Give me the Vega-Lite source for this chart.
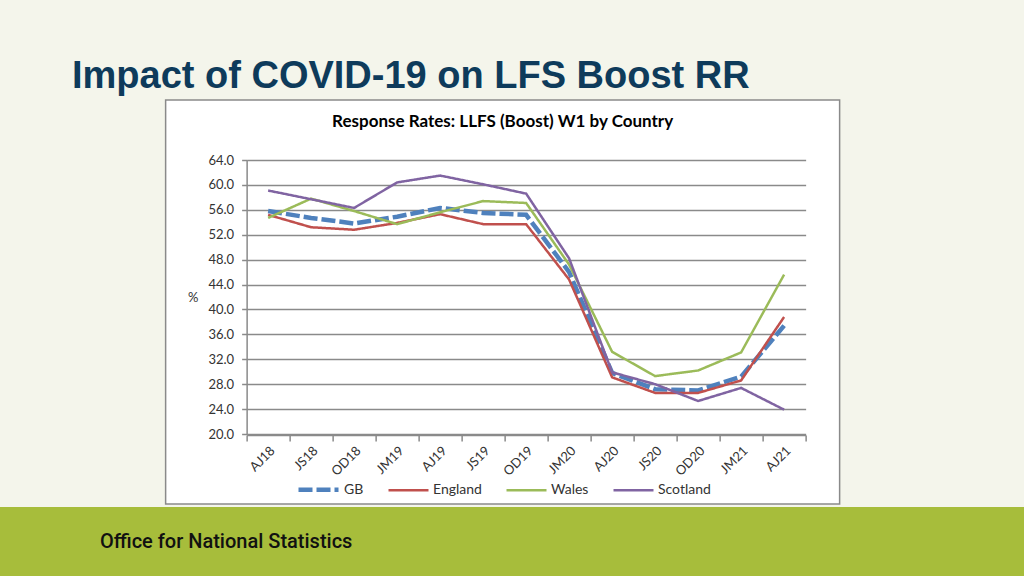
{
  "$schema": "https://vega.github.io/schema/vega-lite/v6.json",
  "background": "#f4f5eb",
  "padding": {"left": 0, "right": 0, "top": 58, "bottom": 0},
  "title": {"text": "Impact of COVID-19 on LFS Boost RR", "anchor": "start", "frame": "group", "dx": 72, "offset": -35, "fontSize": 38, "font": "Liberation Sans", "fontWeight": "bold", "color": "#0e3b5b", "baseline": "bottom"},
  "center": true,
  "spacing": 2,
  "config": {
    "legend": {"symbolType": "stroke", "symbolSize": 1600, "labelFont": "Lato", "labelFontSize": 14, "labelColor": "#333333", "labelOffset": 3, "columnPadding": 19, "padding": 0}
  },
  "vconcat": [
    {
      "width": 674,
      "height": 404,
      "view": {"fill": "white", "stroke": "#8a8a8a", "strokeWidth": 1.5},
      "title": {"text": "Response Rates: LLFS (Boost) W1 by Country", "anchor": "middle", "frame": "group", "offset": -48, "fontSize": 17, "font": "Lato", "fontWeight": "bold", "color": "#000000", "baseline": "bottom"},
      "data": {"values": [
        {"period": "AJ18", "series": "GB", "rate": 55.8},
        {"period": "JS18", "series": "GB", "rate": 54.7},
        {"period": "OD18", "series": "GB", "rate": 53.8},
        {"period": "JM19", "series": "GB", "rate": 54.9},
        {"period": "AJ19", "series": "GB", "rate": 56.3},
        {"period": "JS19", "series": "GB", "rate": 55.5},
        {"period": "OD19", "series": "GB", "rate": 55.2},
        {"period": "JM20", "series": "GB", "rate": 46.0},
        {"period": "AJ20", "series": "GB", "rate": 29.8},
        {"period": "JS20", "series": "GB", "rate": 27.2},
        {"period": "OD20", "series": "GB", "rate": 27.0},
        {"period": "JM21", "series": "GB", "rate": 29.2},
        {"period": "AJ21", "series": "GB", "rate": 37.4},
        {"period": "AJ18", "series": "England", "rate": 55.2},
        {"period": "JS18", "series": "England", "rate": 53.2},
        {"period": "OD18", "series": "England", "rate": 52.8},
        {"period": "JM19", "series": "England", "rate": 53.9},
        {"period": "AJ19", "series": "England", "rate": 55.3},
        {"period": "JS19", "series": "England", "rate": 53.7},
        {"period": "OD19", "series": "England", "rate": 53.7},
        {"period": "JM20", "series": "England", "rate": 44.8},
        {"period": "AJ20", "series": "England", "rate": 29.1},
        {"period": "JS20", "series": "England", "rate": 26.6},
        {"period": "OD20", "series": "England", "rate": 26.6},
        {"period": "JM21", "series": "England", "rate": 28.6},
        {"period": "AJ21", "series": "England", "rate": 38.8},
        {"period": "AJ18", "series": "Wales", "rate": 54.7},
        {"period": "JS18", "series": "Wales", "rate": 57.8},
        {"period": "OD18", "series": "Wales", "rate": 55.8},
        {"period": "JM19", "series": "Wales", "rate": 53.7},
        {"period": "AJ19", "series": "Wales", "rate": 55.6},
        {"period": "JS19", "series": "Wales", "rate": 57.4},
        {"period": "OD19", "series": "Wales", "rate": 57.1},
        {"period": "JM20", "series": "Wales", "rate": 47.2},
        {"period": "AJ20", "series": "Wales", "rate": 33.2},
        {"period": "JS20", "series": "Wales", "rate": 29.3},
        {"period": "OD20", "series": "Wales", "rate": 30.2},
        {"period": "JM21", "series": "Wales", "rate": 33.1},
        {"period": "AJ21", "series": "Wales", "rate": 45.6},
        {"period": "AJ18", "series": "Scotland", "rate": 59.1},
        {"period": "JS18", "series": "Scotland", "rate": 57.7},
        {"period": "OD18", "series": "Scotland", "rate": 56.3},
        {"period": "JM19", "series": "Scotland", "rate": 60.4},
        {"period": "AJ19", "series": "Scotland", "rate": 61.5},
        {"period": "JS19", "series": "Scotland", "rate": 60.1},
        {"period": "OD19", "series": "Scotland", "rate": 58.6},
        {"period": "JM20", "series": "Scotland", "rate": 48.2},
        {"period": "AJ20", "series": "Scotland", "rate": 29.9},
        {"period": "JS20", "series": "Scotland", "rate": 28.0},
        {"period": "OD20", "series": "Scotland", "rate": 25.3},
        {"period": "JM21", "series": "Scotland", "rate": 27.4},
        {"period": "AJ21", "series": "Scotland", "rate": 23.9}
      ]},
      "layer": [
        {
          "transform": [{"filter": "datum.series === 'GB'"}],
          "mark": {"type": "line", "strokeCap": "butt"},
          "encoding": {
            "x": {"field": "period", "type": "ordinal", "bandPosition": 0.5,
              "sort": ["AJ18", "JS18", "OD18", "JM19", "AJ19", "JS19", "OD19", "JM20", "AJ20", "JS20", "OD20", "JM21", "AJ21"],
              "scale": {"type": "band", "range": [81, 640], "paddingInner": 0, "paddingOuter": 0},
              "axis": {"title": null, "orient": "bottom", "offset": -69, "labelAngle": -45, "labelFont": "Lato", "labelFontSize": 13, "labelColor": "#333333", "tickBand": "extent", "tickSize": 6, "tickColor": "#8a8a8a", "tickWidth": 1.5, "domainColor": "#8a8a8a", "domainWidth": 1.5, "grid": false, "labelPadding": 3}},
            "y": {"field": "rate", "type": "quantitative",
              "scale": {"domain": [20, 64], "range": [334, 60], "nice": false, "zero": false},
              "axis": {"title": "%", "titleAngle": 0, "titleAlign": "right", "titleBaseline": "middle", "titlePadding": 10, "titleFont": "Lato", "titleFontSize": 13, "titleFontWeight": "normal", "titleColor": "#333333",
                "values": [20, 24, 28, 32, 36, 40, 44, 48, 52, 56, 60, 64], "format": ".1f",
                "labelFont": "Lato", "labelFontSize": 13, "labelColor": "#333333", "labelPadding": 8,
                "tickSize": 5, "tickColor": "#8a8a8a", "tickWidth": 1.5, "domainColor": "#8a8a8a", "domainWidth": 1.5,
                "grid": true, "gridColor": "#8a8a8a", "gridWidth": 1.5, "offset": -81}},
            "color": {"field": "series", "type": "nominal",
              "scale": {"type": "ordinal", "domain": ["GB", "England", "Wales", "Scotland"], "range": ["#4f81bd", "#c0504d", "#9bbb59", "#8064a2"]},
              "legend": {"orient": "none", "legendX": 296, "legendY": 367, "direction": "horizontal", "title": null}},
            "strokeDash": {"field": "series", "type": "nominal",
              "scale": {"type": "ordinal", "domain": ["GB", "England", "Wales", "Scotland"], "range": [[14, 4], [1, 0], [1, 0], [1, 0]]},
              "legend": {"orient": "none", "legendX": 296, "legendY": 367, "direction": "horizontal", "title": null}},
            "strokeWidth": {"field": "series", "type": "nominal",
              "scale": {"type": "ordinal", "domain": ["GB", "England", "Wales", "Scotland"], "range": [4.5, 2.5, 2.5, 2.5]},
              "legend": {"orient": "none", "legendX": 296, "legendY": 367, "direction": "horizontal", "title": null}}
          }
        },
        {
          "transform": [{"filter": "datum.series !== 'GB'"}],
          "mark": {"type": "line"},
          "encoding": {
            "x": {"field": "period", "type": "ordinal", "bandPosition": 0.5,
              "sort": ["AJ18", "JS18", "OD18", "JM19", "AJ19", "JS19", "OD19", "JM20", "AJ20", "JS20", "OD20", "JM21", "AJ21"]},
            "y": {"field": "rate", "type": "quantitative",
              "axis": {"orient": "right", "labels": false, "ticks": false, "domain": false, "grid": false, "title": null, "minExtent": 18, "maxExtent": 18}},
            "color": {"field": "series", "type": "nominal",
              "scale": {"type": "ordinal", "domain": ["GB", "England", "Wales", "Scotland"], "range": ["#4f81bd", "#c0504d", "#9bbb59", "#8064a2"]},
              "legend": {"orient": "none", "legendX": 296, "legendY": 367, "direction": "horizontal", "title": null}},
            "strokeDash": {"field": "series", "type": "nominal",
              "scale": {"type": "ordinal", "domain": ["GB", "England", "Wales", "Scotland"], "range": [[14, 4], [1, 0], [1, 0], [1, 0]]},
              "legend": {"orient": "none", "legendX": 296, "legendY": 367, "direction": "horizontal", "title": null}},
            "strokeWidth": {"field": "series", "type": "nominal",
              "scale": {"type": "ordinal", "domain": ["GB", "England", "Wales", "Scotland"], "range": [4.5, 2.5, 2.5, 2.5]},
              "legend": {"orient": "none", "legendX": 296, "legendY": 367, "direction": "horizontal", "title": null}}
          }
        }
      ],
      "resolve": {"axis": {"y": "independent"}}
    },
    {
      "width": 1024,
      "height": 69,
      "view": {"fill": "#a7bd3b", "stroke": null},
      "title": {"text": "Office for National Statistics", "anchor": "start", "frame": "group", "dx": 100, "offset": -65, "fontSize": 20, "font": "Roboto", "fontWeight": 500, "color": "#111111", "baseline": "bottom"},
      "data": {"values": []},
      "mark": "text",
      "encoding": {}
    }
  ]
}
